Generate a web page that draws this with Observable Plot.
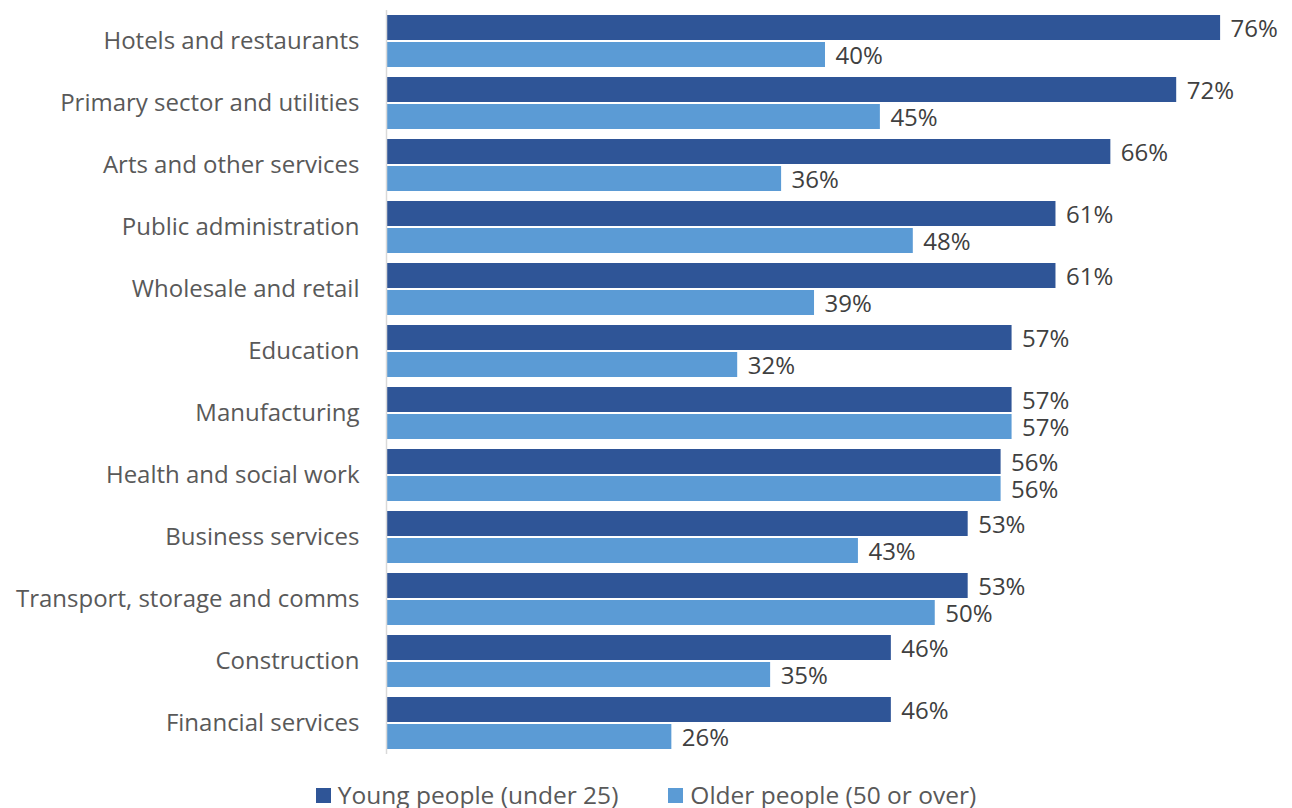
<!DOCTYPE html>
<html>
<head>
<meta charset="utf-8">
<script src="https://cdn.jsdelivr.net/npm/d3@7"></script>
<script src="https://cdn.jsdelivr.net/npm/@observablehq/plot@0.6"></script>
<style>
  body { margin: 0; background: #fff; font-family: "Open Sans", sans-serif; }
  #legend { display: flex; justify-content: center; gap: 50px; font-size: 24.5px; color: #595959; margin-top: 23px; line-height: 1; }
  #legend .item { display: flex; align-items: center; gap: 7px; }
  #legend .sw { width: 15px; height: 15px; display: inline-block; }
</style>
</head>
<body>
<div id="chart"></div>
<div id="legend"></div>
<script>
const categories = [
  "Hotels and restaurants",
  "Primary sector and utilities",
  "Arts and other services",
  "Public administration",
  "Wholesale and retail",
  "Education",
  "Manufacturing",
  "Health and social work",
  "Business services",
  "Transport, storage and comms",
  "Construction",
  "Financial services"
];
const young = [76, 72, 66, 61, 61, 57, 57, 56, 53, 53, 46, 46];
const older = [40, 45, 36, 48, 39, 32, 57, 56, 43, 50, 35, 26];
const seriesNames = ["Young people (under 25)", "Older people (50 or over)"];
const colors = ["#2F5597", "#5B9BD5"];

const youngData = categories.map((c, i) => ({category: c, value: young[i]}));
const olderData = categories.map((c, i) => ({category: c, value: older[i]}));

const valueColor = "#404040";
const catColor = "#595959";

const chart = Plot.plot({
  width: 1292,
  height: 760,
  marginTop: 10,
  marginBottom: 6,
  marginLeft: 386,
  marginRight: 28,
  style: {fontFamily: "Open Sans", fontSize: "24px", color: valueColor},
  x: {domain: [0, 80], axis: null},
  y: {domain: categories, paddingInner: 10/62, paddingOuter: 5/62, label: null, tickSize: 0, tickPadding: 28},
  marks: [
    Plot.barX(youngData, {x: "value", y: "category", fill: colors[0], insetBottom: 27}),
    Plot.barX(olderData, {x: "value", y: "category", fill: colors[1], insetTop: 27}),
    Plot.text(youngData, {x: "value", y: "category", text: d => d.value + "%", textAnchor: "start", dx: 10, dy: -12, fill: valueColor, fontSize: 24}),
    Plot.text(olderData, {x: "value", y: "category", text: d => d.value + "%", textAnchor: "start", dx: 10, dy: 15, fill: valueColor, fontSize: 24}),
    Plot.ruleX([0], {stroke: "#d9d9d9", strokeWidth: 1.5}),
    Plot.axisY({tickSize: 0, tickPadding: 27, fontSize: 24, fill: catColor, label: null})
  ]
});
document.getElementById("chart").appendChild(chart);

const legend = document.getElementById("legend");
seriesNames.forEach((n, i) => {
  const item = document.createElement("div");
  item.className = "item";
  const sw = document.createElement("span");
  sw.className = "sw";
  sw.style.background = colors[i];
  const t = document.createElement("span");
  t.textContent = n;
  item.appendChild(sw);
  item.appendChild(t);
  legend.appendChild(item);
});
</script>
</body>
</html>
